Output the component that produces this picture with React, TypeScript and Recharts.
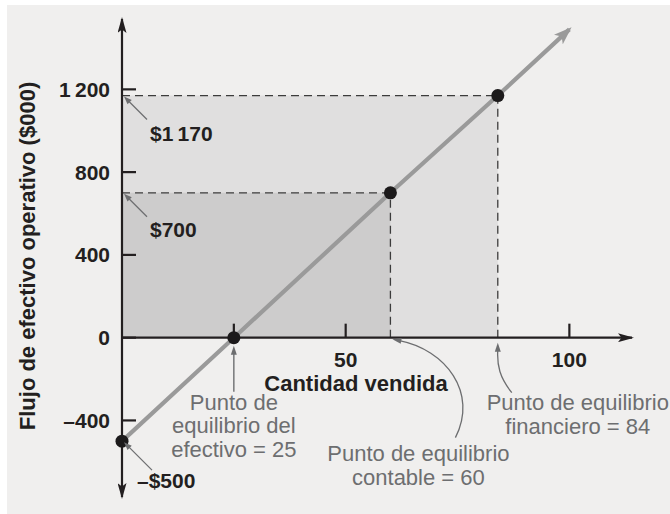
import React from 'react';
import { ComposedChart, Line, XAxis, YAxis, ReferenceArea, ReferenceLine, ReferenceDot } from 'recharts';

// operating cash flow ($000) against quantity sold
const lineQty = [0, 25, 60, 84, 100];
const lineOcf = [-500, 0, 700, 1170, 1490];

// marked points on the line
const pointQty = [0, 25, 60, 84];
const pointOcf = [-500, 0, 700, 1170];

const xTicks = [25, 50, 100];
const xTickLabels = ['', '50', '100'];
const yTicks = [-400, 0, 400, 800, 1200];
const yTickLabels = ['\u2013400', '0', '400', '800', '1\u2009200'];

const cashLines = ['Punto de', 'equilibrio del', 'efectivo = 25'];
const accountingLines = ['Punto de equilibrio', 'contable = 60'];
const financialLines = ['Punto de equilibrio', 'financiero = 84'];

const X_DOMAIN = [0, 114];
const Y_DOMAIN = [-770, 1540];

const DARK = '#231f20';
const GRAY = '#6d6e70';
const FONT = '"Liberation Sans", Arial, Helvetica, sans-serif';

const head = (tx: number, ty: number, fx: number, fy: number, len = 8, w = 3.2, color = GRAY) => {
  const a = Math.atan2(ty - fy, tx - fx);
  const bx = tx - len * Math.cos(a);
  const by = ty - len * Math.sin(a);
  const px = -Math.sin(a) * w;
  const py = Math.cos(a) * w;
  return <polygon points={`${tx},${ty} ${bx + px},${by + py} ${bx - px},${by - py}`} fill={color} />;
};

const darkText = { fontFamily: FONT, fontSize: 21, fontWeight: 700, fill: DARK };
const noteText = { fontFamily: FONT, fontSize: 22, fill: GRAY };

const XTick = (label: string) => (p: any) => (
  <g>
    <line x1={p.cx} y1={p.cy} x2={p.cx} y2={p.cy - 14} stroke={DARK} strokeWidth={2.2} />
    {label && (
      <text x={p.cx} y={p.cy + 29} textAnchor="middle" style={darkText}>{label}</text>
    )}
  </g>
);

const YTick = (label: string) => (p: any) => (
  <g>
    <line x1={p.cx} y1={p.cy} x2={p.cx + 14} y2={p.cy} stroke={DARK} strokeWidth={2.2} />
    <text x={p.cx - 12} y={p.cy + 7.5} textAnchor="end" style={darkText}>{label}</text>
  </g>
);

// "$1170" / "$700" callouts pointing at the y axis
const ValueNote = (label: string, tx: number, ty: number, ax: number, ay: number) => (p: any) => (
  <g>
    <line x1={p.cx + ax} y1={p.cy + ay} x2={p.cx + 5} y2={p.cy + 4} stroke={GRAY} strokeWidth={1.3} />
    {head(p.cx + 2, p.cy + 1, p.cx + ax, p.cy + ay, 8, 3)}
    <text x={p.cx + tx} y={p.cy + ty} style={darkText}>{label}</text>
  </g>
);

const Lines = (lines: string[], x: number, y0: number, step: number) =>
  lines.map((l, i) => (
    <text key={i} x={x} y={y0 + i * step} textAnchor="middle" style={noteText}>{l}</text>
  ));

const CashNote = (p: any) => (
  <g>
    <line x1={p.cx} y1={p.cy + 54} x2={p.cx} y2={p.cy + 14} stroke={GRAY} strokeWidth={1.4} />
    {head(p.cx, p.cy + 8, p.cx, p.cy + 54, 9, 3)}
    {Lines(cashLines, p.cx, p.cy + 72, 23.5)}
  </g>
);

const AccountingNote = (p: any) => (
  <g>
    <path
      d={`M${p.cx + 65},${p.cy + 100} C${p.cx + 88},${p.cy + 55} ${p.cx + 55},${p.cy + 12} ${p.cx + 9},${p.cy + 3}`}
      fill="none" stroke={GRAY} strokeWidth={1.3}
    />
    {head(p.cx + 2, p.cy + 1.5, p.cx + 30, p.cy + 7, 9, 3)}
    {Lines(accountingLines, p.cx + 28, p.cy + 123, 24)}
  </g>
);

const FinancialNote = (p: any) => (
  <g>
    <path
      d={`M${p.cx + 14},${p.cy + 55} C${p.cx + 2},${p.cy + 40} ${p.cx - 1},${p.cy + 28} ${p.cx},${p.cy + 12}`}
      fill="none" stroke={GRAY} strokeWidth={1.3}
    />
    {head(p.cx, p.cy + 5, p.cx, p.cy + 22, 9, 3)}
    {Lines(financialLines, p.cx + 80, p.cy + 72, 24)}
  </g>
);

const XTitle = (p: any) => (
  <text x={p.cx + 234} y={p.cy + 53} textAnchor="middle" style={{ ...darkText, fontSize: 22 }}>
    Cantidad vendida
  </text>
);

const YTitle = (props: any) => {
  const vb = props.viewBox || { x: 0, y: 0, width: 0, height: 0 };
  return (
    <text
      transform={`translate(${vb.x + 28}, ${vb.y + vb.height / 2 - 2}) rotate(-90)`}
      textAnchor="middle"
      style={{ ...darkText, fontSize: 22 }}
    >
      Flujo de efectivo operativo ($000)
    </text>
  );
};

export default function App() {
  const data = lineQty.map((q, i) => ({ q, ocf: lineOcf[i] }));
  const points = pointQty.map((q, i) => ({ q, ocf: pointOcf[i] }));

  return (
    <div style={{ width: 670, height: 514, background: '#fff', position: 'relative' }}>
      <style>{'body{margin:0}'}</style>
      <svg width={0} height={0} style={{ position: 'absolute' }}>
        <defs>
          <marker id="axisArrow" viewBox="0 0 16 9" refX={14} refY={4.5} markerWidth={16} markerHeight={9}
            markerUnits="userSpaceOnUse" orient="auto-start-reverse">
            <path d="M0,0 L16,4.5 L0,9 L3.5,4.5 z" fill={DARK} />
          </marker>
          <marker id="lineArrow" viewBox="0 0 18 13" refX={15} refY={6.5} markerWidth={18} markerHeight={13}
            markerUnits="userSpaceOnUse" orient="auto">
            <path d="M0,0 L18,6.5 L0,13 L4.5,6.5 z" fill="#9a9a9a" />
          </marker>
        </defs>
      </svg>
      <div style={{ position: 'absolute', left: 7, top: 5, width: 663, height: 509, background: '#f0efee' }}>
        <ComposedChart width={663} height={509} data={data} margin={{ top: 14, right: 38, bottom: 17, left: 0 }}>
          <XAxis type="number" dataKey="q" domain={X_DOMAIN} hide allowDataOverflow />
          <YAxis
            type="number"
            domain={Y_DOMAIN}
            width={115}
            axisLine={false}
            tickLine={false}
            tick={false}
            allowDataOverflow
            label={{ content: YTitle }}
          />

          <ReferenceArea x1={0} x2={pointQty[3]} y1={0} y2={pointOcf[3]} fill="#e0dfdf" fillOpacity={1} />
          <ReferenceArea x1={0} x2={pointQty[2]} y1={0} y2={pointOcf[2]} fill="#cdcccc" fillOpacity={1} />

          <ReferenceLine segment={[{ x: 0, y: pointOcf[3] }, { x: pointQty[3], y: pointOcf[3] }]} stroke="#3c3c3c" strokeWidth={1.3} strokeDasharray="8 5" />
          <ReferenceLine segment={[{ x: pointQty[3], y: 0 }, { x: pointQty[3], y: pointOcf[3] }]} stroke="#3c3c3c" strokeWidth={1.3} strokeDasharray="8 5" />
          <ReferenceLine segment={[{ x: 0, y: pointOcf[2] }, { x: pointQty[2], y: pointOcf[2] }]} stroke="#3c3c3c" strokeWidth={1.3} strokeDasharray="8 5" />
          <ReferenceLine segment={[{ x: pointQty[2], y: 0 }, { x: pointQty[2], y: pointOcf[2] }]} stroke="#3c3c3c" strokeWidth={1.3} strokeDasharray="8 5" />

          {/* axes crossing at the origin */}
          <ReferenceLine segment={[{ x: 0, y: 0 }, { x: X_DOMAIN[1], y: 0 }]} stroke={DARK} strokeWidth={2.2} markerEnd="url(#axisArrow)" />
          <ReferenceLine segment={[{ x: 0, y: Y_DOMAIN[0] }, { x: 0, y: Y_DOMAIN[1] }]} stroke={DARK} strokeWidth={2.2}
            markerStart="url(#axisArrow)" markerEnd="url(#axisArrow)" />

          {xTicks.map((t, i) => (
            <ReferenceDot key={'xt' + t} x={t} y={0} r={1} shape={XTick(xTickLabels[i])} />
          ))}
          {yTicks.map((t, i) => (
            <ReferenceDot key={'yt' + t} x={0} y={t} r={1} shape={YTick(yTickLabels[i])} />
          ))}

          <Line
            dataKey="ocf"
            type="linear"
            stroke="#9a9a9a"
            strokeWidth={4.2}
            dot={false}
            activeDot={false}
            markerEnd="url(#lineArrow)"
            isAnimationActive={false}
          />

          {points.map((p) => (
            <ReferenceDot key={'pt' + p.q} x={p.q} y={p.ocf} r={6.5} fill="#1c1a1b" stroke="none" />
          ))}

          <ReferenceDot x={0} y={0} r={1} shape={XTitle} />
          <ReferenceDot x={0} y={pointOcf[3]} r={1} shape={ValueNote('$1\u2009170', 28, 45, 25, 24)} />
          <ReferenceDot x={0} y={pointOcf[2]} r={1} shape={ValueNote('$700', 28, 44, 25, 24)} />
          <ReferenceDot x={0} y={pointOcf[0]} r={1} shape={ValueNote('\u2013$500', 15, 47, 30, 29)} />
          <ReferenceDot x={pointQty[1]} y={0} r={1} shape={CashNote} />
          <ReferenceDot x={pointQty[2]} y={0} r={1} shape={AccountingNote} />
          <ReferenceDot x={pointQty[3]} y={0} r={1} shape={FinancialNote} />
        </ComposedChart>
      </div>
    </div>
  );
}
